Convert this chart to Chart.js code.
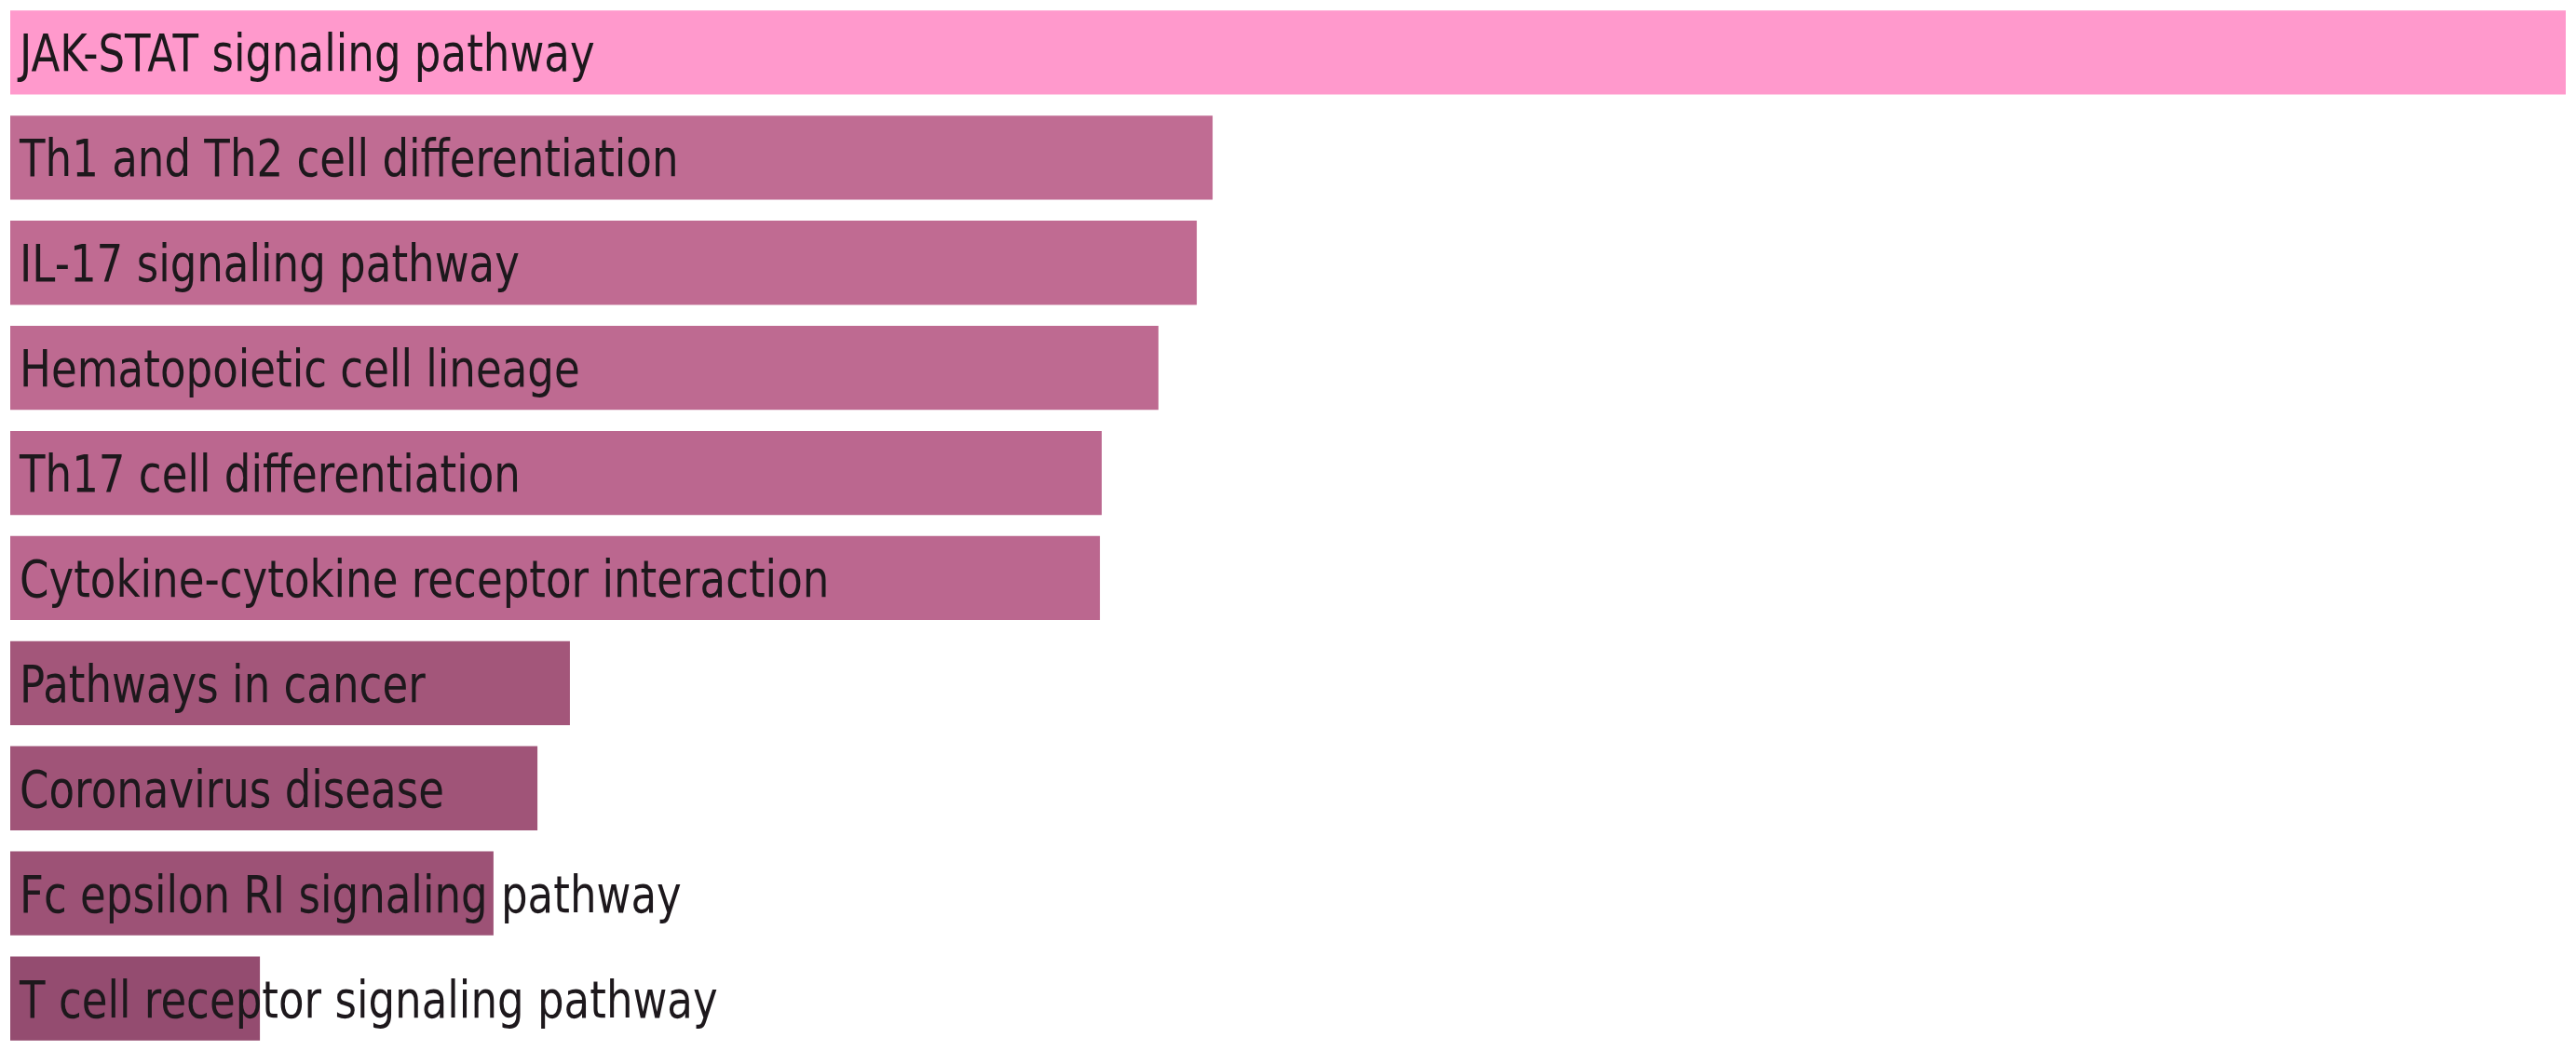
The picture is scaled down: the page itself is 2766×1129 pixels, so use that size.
<!DOCTYPE html>
<html>
<head>
<meta charset="utf-8">
<script src="https://cdn.jsdelivr.net/npm/chart.js@4/dist/chart.umd.min.js"></script>
<style>
    html, body { margin: 0; padding: 0; background: #ffffff; }
    #wrap { width: 2766px; height: 1129px; }
</style>
</head>
<body>
<div id="wrap"><canvas id="pathwayChart" width="2766" height="1129"></canvas></div>
<script>
// Enriched pathways (top to bottom) and their scores
const pathways = [
    'JAK-STAT signaling pathway',
    'Th1 and Th2 cell differentiation',
    'IL-17 signaling pathway',
    'Hematopoietic cell lineage',
    'Th17 cell differentiation',
    'Cytokine-cytokine receptor interaction',
    'Pathways in cancer',
    'Coronavirus disease',
    'Fc epsilon RI signaling pathway',
    'T cell receptor signaling pathway'
];
const scores = [100, 47.05, 46.43, 44.93, 42.71, 42.64, 21.9, 20.63, 18.91, 9.77];
const barColors = [
    '#FF99CC', '#C06C93', '#C06B92', '#BE6A91', '#BB678F',
    '#BB678F', '#A3567A', '#A05478', '#9D5276', '#944C70'
];

// Draws each pathway name over its bar, starting at the left edge
const labelPlugin = {
    id: 'pathwayLabels',
    afterDatasetsDraw(chart) {
        const ctx = chart.ctx;
        const yScale = chart.scales.y;
        const left = chart.chartArea.left;
        ctx.save();
        ctx.fillStyle = '#1d181c';
        ctx.font = '55px "DejaVu Sans"';
        ctx.textBaseline = 'alphabetic';
        ctx.textAlign = 'left';
        chart.data.labels.forEach((label, i) => {
            const y = yScale.getPixelForValue(i);
            ctx.save();
            ctx.translate(left + 10, y + 20);
            ctx.scale(0.82, 1);
            ctx.fillText(label, 0, 0);
            ctx.restore();
        });
        ctx.restore();
    }
};

const ctx = document.getElementById('pathwayChart').getContext('2d');

window.pathwayChart = new Chart(ctx, {
    type: 'bar',
    data: {
        labels: pathways,
        datasets: [{
            data: scores,
            backgroundColor: barColors,
            borderWidth: 0,
            barPercentage: 0.8,
            categoryPercentage: 1.0
        }]
    },
    options: {
        indexAxis: 'y',
        responsive: false,
        animation: false,
        layout: {
            padding: { left: 11, right: 11, top: -6, bottom: 0 }
        },
        plugins: {
            legend: { display: false },
            tooltip: { enabled: false }
        },
        scales: {
            x: {
                display: false,
                min: 0,
                max: scores[0]
            },
            y: {
                display: false
            }
        }
    },
    plugins: [labelPlugin]
});
</script>
</body>
</html>
